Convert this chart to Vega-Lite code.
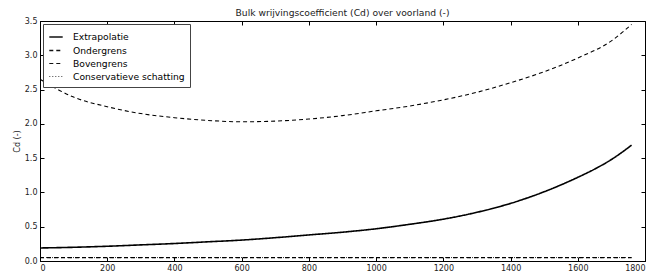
{
  "$schema": "https://vega.github.io/schema/vega-lite/v6.json",
  "width": 605,
  "height": 240,
  "autosize": "none",
  "padding": {"left": 40, "top": 21, "right": 15, "bottom": 12},
  "background": "white",
  "config": {
    "font": "DejaVu Sans",
    "view": {"stroke": "#000", "strokeWidth": 1},
    "axis": {"grid": false, "domainColor": "#000", "tickColor": "#000", "labelColor": "#222", "labelFont": "DejaVu Sans", "labelFontSize": 8, "titleFont": "DejaVu Sans", "titleFontWeight": "normal", "titleFontSize": 8, "titleColor": "#222", "tickSize": -4, "labelPadding": 7}
  },
  "title": {"text": "Bulk wrijvingscoefficient (Cd) over voorland (-)", "fontSize": 9.2, "font": "DejaVu Sans", "fontWeight": "normal", "color": "#222", "offset": -1},
  "data": {"values": [
    {"x": 0, "cd": 0.19, "s": "Extrapolatie"},
    {"x": 100, "cd": 0.20, "s": "Extrapolatie"},
    {"x": 200, "cd": 0.215, "s": "Extrapolatie"},
    {"x": 300, "cd": 0.235, "s": "Extrapolatie"},
    {"x": 400, "cd": 0.255, "s": "Extrapolatie"},
    {"x": 500, "cd": 0.28, "s": "Extrapolatie"},
    {"x": 600, "cd": 0.305, "s": "Extrapolatie"},
    {"x": 700, "cd": 0.34, "s": "Extrapolatie"},
    {"x": 800, "cd": 0.38, "s": "Extrapolatie"},
    {"x": 900, "cd": 0.42, "s": "Extrapolatie"},
    {"x": 1000, "cd": 0.47, "s": "Extrapolatie"},
    {"x": 1100, "cd": 0.535, "s": "Extrapolatie"},
    {"x": 1200, "cd": 0.61, "s": "Extrapolatie"},
    {"x": 1300, "cd": 0.71, "s": "Extrapolatie"},
    {"x": 1400, "cd": 0.84, "s": "Extrapolatie"},
    {"x": 1450, "cd": 0.92, "s": "Extrapolatie"},
    {"x": 1500, "cd": 1.01, "s": "Extrapolatie"},
    {"x": 1550, "cd": 1.11, "s": "Extrapolatie"},
    {"x": 1600, "cd": 1.22, "s": "Extrapolatie"},
    {"x": 1650, "cd": 1.34, "s": "Extrapolatie"},
    {"x": 1700, "cd": 1.48, "s": "Extrapolatie"},
    {"x": 1730, "cd": 1.58, "s": "Extrapolatie"},
    {"x": 1760, "cd": 1.69, "s": "Extrapolatie"},
    {"x": 0, "cd": 0.05, "s": "Ondergrens"},
    {"x": 1760, "cd": 0.05, "s": "Ondergrens"},
    {"x": 0, "cd": 2.65, "s": "Bovengrens"},
    {"x": 100, "cd": 2.39, "s": "Bovengrens"},
    {"x": 200, "cd": 2.25, "s": "Bovengrens"},
    {"x": 300, "cd": 2.15, "s": "Bovengrens"},
    {"x": 400, "cd": 2.09, "s": "Bovengrens"},
    {"x": 500, "cd": 2.05, "s": "Bovengrens"},
    {"x": 600, "cd": 2.03, "s": "Bovengrens"},
    {"x": 700, "cd": 2.04, "s": "Bovengrens"},
    {"x": 800, "cd": 2.07, "s": "Bovengrens"},
    {"x": 900, "cd": 2.12, "s": "Bovengrens"},
    {"x": 1000, "cd": 2.19, "s": "Bovengrens"},
    {"x": 1100, "cd": 2.26, "s": "Bovengrens"},
    {"x": 1200, "cd": 2.35, "s": "Bovengrens"},
    {"x": 1300, "cd": 2.46, "s": "Bovengrens"},
    {"x": 1400, "cd": 2.60, "s": "Bovengrens"},
    {"x": 1500, "cd": 2.76, "s": "Bovengrens"},
    {"x": 1600, "cd": 2.96, "s": "Bovengrens"},
    {"x": 1700, "cd": 3.21, "s": "Bovengrens"},
    {"x": 1760, "cd": 3.45, "s": "Bovengrens"},
    {"x": 0, "cd": 0.05, "s": "Conservatieve schatting"},
    {"x": 1760, "cd": 0.05, "s": "Conservatieve schatting"}
  ]},
  "resolve": {"axis": {"x": "independent", "y": "independent"}},
  "layer": [
    {
      "mark": {"type": "line", "interpolate": "monotone", "clip": true, "color": "#000"},
      "encoding": {
        "x": {"field": "x", "type": "quantitative", "scale": {"domain": [0, 1800], "nice": false}, "axis": {"values": [0, 200, 400, 600, 800, 1000, 1200, 1400, 1600, 1800], "format": "d", "title": null, "labelAngle": 0}},
        "y": {"field": "cd", "type": "quantitative", "scale": {"domain": [0, 3.5], "nice": false}, "axis": {"values": [0, 0.5, 1, 1.5, 2, 2.5, 3, 3.5], "format": ".1f", "title": "Cd (-)", "titlePadding": 3}},
        "detail": {"field": "s"},
        "strokeDash": {"field": "s", "type": "nominal", "scale": {"domain": ["Extrapolatie", "Ondergrens", "Bovengrens", "Conservatieve schatting"], "range": [[1, 0], [4, 3], [4, 3], [1, 2]]},
          "legend": {"title": null, "orient": "none", "legendX": 3, "legendY": 3, "symbolType": "stroke", "symbolSize": 180, "symbolStrokeColor": "#111", "labelFontSize": 9.2, "labelColor": "#000", "labelFont": "DejaVu Sans", "strokeColor": "#444", "fillColor": "white", "padding": 5, "rowPadding": 0, "labelOffset": 9, "symbolStrokeWidth": 1}},
        "strokeWidth": {"field": "s", "type": "nominal", "scale": {"domain": ["Extrapolatie", "Ondergrens", "Bovengrens", "Conservatieve schatting"], "range": [1.6, 0.8, 0.8, 0.8]}, "legend": null}
      }
    },
    {
      "mark": {"type": "point", "opacity": 0},
      "encoding": {
        "x": {"field": "x", "type": "quantitative", "axis": {"orient": "top", "values": [0, 200, 400, 600, 800, 1000, 1200, 1400, 1600, 1800], "labels": false, "domain": false, "ticks": true, "tickSize": -4, "tickColor": "#000", "title": null}},
        "y": {"field": "cd", "type": "quantitative", "axis": {"orient": "right", "values": [0, 0.5, 1, 1.5, 2, 2.5, 3, 3.5], "labels": false, "domain": false, "ticks": true, "tickSize": -4, "tickColor": "#000", "title": null}}
      }
    }
  ]
}
